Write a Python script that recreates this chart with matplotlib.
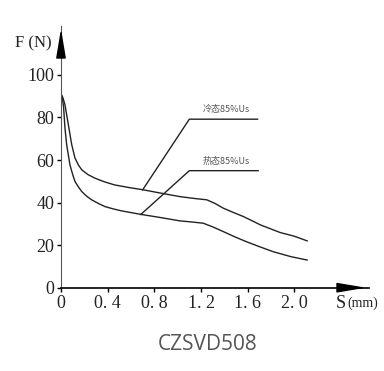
import matplotlib.pyplot as plt

# stroke S (mm) vs force F (N)
cold_s = [0.0, 0.015, 0.034, 0.063, 0.092, 0.12, 0.15, 0.178, 0.23, 0.29, 0.37, 0.46, 0.58, 0.706,
          0.86, 1.02, 1.15, 1.25, 1.32, 1.39, 1.48, 1.565, 1.64, 1.71, 1.8, 1.88, 2.0, 2.11]
cold_f = [91, 89.5, 86, 76.6, 67.2, 60.9, 57.6, 55.4, 53.2, 51.5, 49.8, 48.3, 47.1, 46.0,
          44.4, 42.8, 41.9, 41.3, 39.6, 37.4, 35.3, 33.4, 31.4, 29.5, 27.6, 25.9, 24.2, 22.0]
hot_s = [0.0, 0.012, 0.022, 0.034, 0.049, 0.077, 0.1, 0.12, 0.15, 0.178, 0.22, 0.263, 0.32, 0.378,
         0.45, 0.52, 0.6, 0.68, 0.85, 1.02, 1.12, 1.22, 1.3, 1.39, 1.49, 1.59, 1.7, 1.82, 1.97, 2.11]
hot_f = [91, 89, 85, 75, 67, 57.7, 53.2, 49.9, 47.3, 45.2, 43.0, 41.3, 39.6, 38.1,
         37.0, 36.1, 35.3, 34.5, 33.0, 31.4, 30.9, 30.3, 28.6, 26.4, 23.9, 21.6, 19.3, 16.9, 14.6, 13.0]

x_ticks = [0, 0.4, 0.8, 1.2, 1.6, 2.0]
x_labels = ['0', '0. 4', '0. 8', '1. 2', '1. 6', '2. 0']
y_ticks = [0, 20, 40, 60, 80, 100]

# leader lines: point on curve, elbow, end of horizontal
cold_leader = [(0.70, 46.0), (1.10, 79.2), (1.685, 79.2)]
hot_leader = [(0.684, 34.4), (1.10, 55.0), (1.69, 55.0)]
cold_label = '冷态85%Us'
hot_label = '热态85%Us'

serif = 'Liberation Serif'
fig = plt.figure(figsize=(3.84, 3.71), dpi=100)
ax = fig.add_axes([61 / 384, 1 - 287.7 / 371, 308 / 384, 261.7 / 371])
ax.set_xlim(0, 2.64)
ax.set_ylim(0, 123)

ax.plot(cold_s, cold_f, color='#222222', lw=1)
ax.plot(hot_s, hot_f, color='#222222', lw=1)
for pts in (cold_leader, hot_leader):
    ax.plot([p[0] for p in pts], [p[1] for p in pts], color='#222222', lw=1)
ax.text(1.42, cold_leader[1][1] + 2.3, cold_label, ha='center', va='bottom',
        fontsize=6.5, color='#555555', family=['Noto Sans CJK SC', 'DejaVu Sans'])
ax.text(1.42, hot_leader[1][1] + 2.3, hot_label, ha='center', va='bottom',
        fontsize=6.5, color='#555555', family=['Noto Sans CJK SC', 'DejaVu Sans'])

for side in ('top', 'right'):
    ax.spines[side].set_visible(False)
ax.spines['left'].set_color('#555555')
ax.spines['bottom'].set_linewidth(1.2)

ax.set_xticks(x_ticks)
ax.set_xticklabels(x_labels)
ax.set_yticks(y_ticks)
ax.tick_params(length=3, width=1, labelsize=13, pad=2)
for lbl in ax.get_xticklabels() + ax.get_yticklabels():
    lbl.set_family(serif)
    lbl.set_color('#222222')

# axis arrows
arrow = dict(arrowstyle='-|>,head_length=1.8,head_width=0.3', color='black', lw=1)
ax.annotate('', xy=(1, 0), xytext=(0.9, 0), xycoords='axes fraction', arrowprops=arrow)
ax.annotate('', xy=(0, 1), xytext=(0, 0.9), xycoords='axes fraction', arrowprops=arrow)

fig.text(15 / 384, 1 - 43 / 371, 'F (N)', fontsize=12, family=serif, color='#222222',
         ha='left', va='center')
fig.text(336 / 384, 1 - 303 / 371, 'S', fontsize=13, family=serif, color='#222222',
         ha='left', va='center')
fig.text(347 / 384, 1 - 303 / 371, '(mm)', fontsize=10, family=serif, color='#222222',
         ha='left', va='center')
fig.text(208 / 384, 1 - 345 / 371, 'CZSVD508', fontsize=15, family='Open Sans',
         color='#555555', ha='center', va='center')

fig.savefig('out.png', dpi=100)
